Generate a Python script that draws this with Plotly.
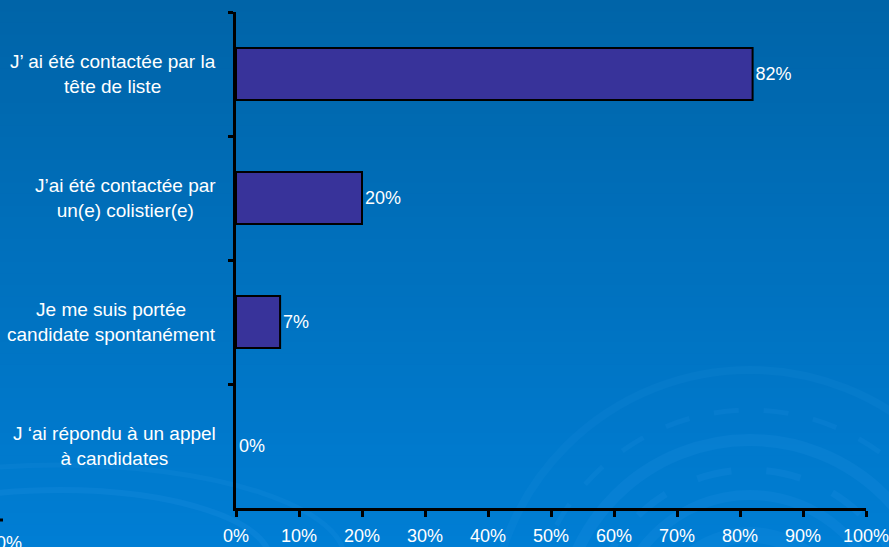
import plotly.graph_objects as go

categories = [
    "J’ ai été contactée par la<br>tête de liste",
    "J’ai été contactée par<br>un(e) colistier(e)",
    "Je me suis portée<br>candidate spontanément",
    "J ‘ai répondu à un appel<br>à candidates",
]
values = [82, 20, 7, 0]
value_labels = ["82%", "20%", "7%", "0%"]
x_ticks = [0, 10, 20, 30, 40, 50, 60, 70, 80, 90, 100]
x_tick_labels = [f"{v}%" for v in x_ticks]

W, H = 889, 547
L, R, T, B = 236, 23, 12, 39
FONT = "Liberation Sans, Arial, sans-serif"
pw, ph = W - L - R, H - T - B


def px(x):
    return (x - L) / pw


def py(y):
    return (H - B - y) / ph


fig = go.Figure()
fig.add_trace(go.Bar(
    y=categories,
    x=values,
    orientation="h",
    width=0.42,
    marker=dict(color="#38339A",
                line=dict(color="black", width=[2 if v > 0 else 0 for v in values])),
    text=value_labels,
    textposition="outside",
    textfont=dict(color="white", size=18, family=FONT),
    cliponaxis=False,
    hoverinfo="skip",
))

shapes = []
# vertical gradient background
n = 48
top = (0, 100, 168)
bot = (0, 126, 212)
for i in range(n):
    f = i / (n - 1)
    c = tuple(int(round(top[k] + (bot[k] - top[k]) * f)) for k in range(3))
    y_top = i * H / n
    y_bot = (i + 1) * H / n
    shapes.append(dict(type="rect", xref="paper", yref="paper", layer="below",
                       x0=px(-5), x1=px(W + 5),
                       y0=py(y_bot + 1), y1=py(y_top),
                       fillcolor="rgb(%d,%d,%d)" % c, line=dict(width=0)))

# decorative faint arcs (bottom right swirl)
cx, cy = 750, 630
for r, w, op, dash in [(95, 16, 0.08, "solid"), (135, 10, 0.09, "solid"),
                       (160, 7, 0.09, "longdash"), (190, 12, 0.09, "solid"),
                       (220, 5, 0.08, "longdash"), (260, 8, 0.06, "solid")]:
    shapes.append(dict(type="circle", xref="paper", yref="paper", layer="below",
                       x0=px(cx - r), x1=px(cx + r), y0=py(cy + r), y1=py(cy - r),
                       line=dict(color="rgba(80,180,255,%.2f)" % op, width=w, dash=dash),
                       fillcolor="rgba(0,0,0,0)"))
# bottom-left faint arcs
for r, w, op in [(70, 6, 0.10), (95, 5, 0.08)]:
    shapes.append(dict(type="circle", xref="paper", yref="paper", layer="below",
                       x0=px(60 - r * 3), x1=px(60 + r * 3), y0=py(560 + r), y1=py(560 - r),
                       line=dict(color="rgba(80,180,255,%.2f)" % op, width=w),
                       fillcolor="rgba(0,0,0,0)"))
# stray tick fragment at bottom-left
shapes.append(dict(type="line", xref="paper", yref="paper",
                   x0=px(0), x1=px(3), y0=py(520), y1=py(520),
                   line=dict(color="black", width=3)))

annotations = []
for c in categories:
    annotations.append(dict(
        xref="paper", yref="y", x=px(218), y=c,
        text=c, showarrow=False, xanchor="right", yanchor="middle", align="center",
        font=dict(color="white", size=19, family=FONT),
    ))
annotations.append(dict(
    xref="paper", yref="paper", x=px(-6), y=py(543), text="0%", showarrow=False,
    xanchor="left", yanchor="middle", font=dict(color="white", size=18, family=FONT),
))

fig.update_layout(
    width=W, height=H, autosize=False,
    margin=dict(l=L, r=R, t=T, b=B, pad=0, autoexpand=False),
    paper_bgcolor="#006FBC",
    plot_bgcolor="rgba(0,0,0,0)",
    showlegend=False,
    bargap=0.58,
    shapes=shapes,
    annotations=annotations,
    font=dict(family=FONT, color="white", size=18),
    xaxis=dict(
        range=[0, 100], tickvals=x_ticks, ticktext=x_tick_labels,
        showgrid=False, zeroline=False, showline=True, linecolor="black", linewidth=3,
        ticks="outside", ticklen=6, tickwidth=3, tickcolor="black",
        tickfont=dict(color="white", size=18, family=FONT),
        ticklabelstandoff=3, ticklabeloverflow="allow", automargin=False, fixedrange=True,
    ),
    yaxis=dict(
        type="category", categoryorder="array", categoryarray=categories,
        autorange="reversed", showticklabels=False, automargin=False,
        tickson="boundaries", showgrid=False, zeroline=False,
        showline=True, linecolor="black", linewidth=3,
        ticks="outside", ticklen=5, tickwidth=3, tickcolor="black", fixedrange=True,
    ),
)

fig.write_html("out.html", config={"displayModeBar": False},
               post_script="document.body.style.margin='0';document.body.style.overflow='hidden';")
